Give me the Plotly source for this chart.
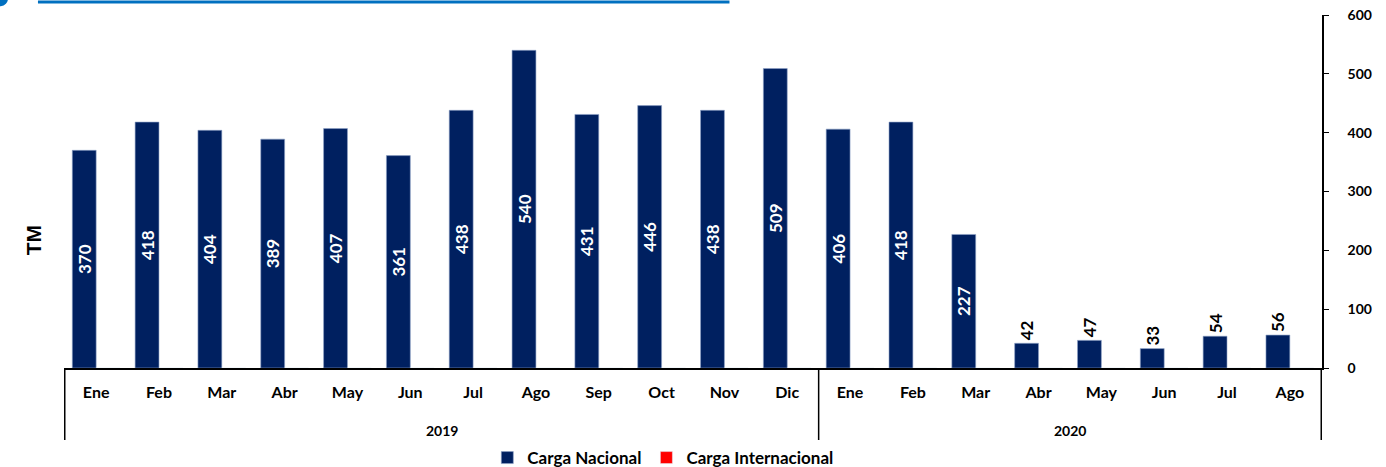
import plotly.graph_objects as go

years = ["2019"] * 12 + ["2020"] * 8
months = ["Ene", "Feb", "Mar", "Abr", "May", "Jun", "Jul", "Ago", "Sep", "Oct", "Nov", "Dic",
          "Ene", "Feb", "Mar", "Abr", "May", "Jun", "Jul", "Ago"]
carga_nacional = [370, 418, 404, 389, 407, 361, 438, 540, 431, 446, 438, 509,
                  406, 418, 227, 42, 47, 33, 54, 56]
carga_internacional = [0] * 20

FONT = "Lato"
NAVY = "#002060"

cats = [f"{m} {y}" for m, y in zip(months, years)]
positions = ["inside" if v >= 100 else "outside" for v in carga_nacional]

fig = go.Figure()
fig.add_trace(go.Bar(
    x=cats, y=carga_nacional, name="Carga Nacional",
    marker=dict(color=NAVY, line=dict(color="#8fa3c8", width=0.6)),
    text=[str(v) for v in carga_nacional], textposition=positions,
    textangle=-90, insidetextanchor="middle", constraintext="none",
    insidetextfont=dict(color="white", size=17, family=FONT, weight="bold"),
    outsidetextfont=dict(color="black", size=17, family=FONT, weight="bold"),
    cliponaxis=False,
))
fig.add_trace(go.Bar(
    x=cats, y=carga_internacional, name="Carga Internacional",
    marker=dict(color="#FF0000"),
))

# year group labels and dividers, derived from the data
annotations = [dict(text="<b>TM</b>", xref="paper", yref="paper", x=-0.035, y=0.363,
                    showarrow=False, textangle=-90, font=dict(size=21, family="Arial"))]
shapes = []
unique_years = []
for y in years:
    if y not in unique_years:
        unique_years.append(y)
bounds = [-0.5]
for yr in unique_years:
    idx = [i for i, y in enumerate(years) if y == yr]
    mid = (idx[0] + idx[-1]) / 2
    annotations.append(dict(text=f"<b>{yr}</b>", x=mid, xref="x", y=-0.176, yref="paper",
                            yanchor="middle", showarrow=False,
                            font=dict(size=14, family=FONT)))
    bounds.append(idx[-1] + 0.5)
for b in bounds:
    shapes.append(dict(type="line", xref="x", yref="paper", x0=b, x1=b, y0=0, y1=-0.204,
                       line=dict(color="black", width=1.5)))

shapes += [
    dict(type="line", xref="paper", yref="paper", x0=-0.0207, x1=0.529, y0=1.037, y1=1.037,
         line=dict(color="#0070C0", width=3)),
    dict(type="circle", xref="paper", yref="paper", x0=-0.056, x1=-0.0445, y0=1.025, y1=1.07,
         fillcolor="#0070C0", line=dict(width=0)),
]

fig.update_layout(
    width=1386, height=467,
    margin=dict(l=64, r=64, t=15, b=99, autoexpand=False),
    paper_bgcolor="white", plot_bgcolor="white",
    barmode="group", bargap=0.24, bargroupgap=0,
    font=dict(family=FONT, color="black"),
    showlegend=True,
    legend=dict(orientation="h", x=0.476, xanchor="center", y=-0.255, yanchor="middle",
                font=dict(size=17, family=FONT, weight="bold"),
                traceorder="normal"),
    xaxis=dict(type="category", showline=True, linecolor="black", linewidth=1.5,
               ticks="", showgrid=False, automargin=False,
               tickvals=cats, ticktext=[f"<b>{m}</b>" for m in months],
               ticklabelstandoff=9,
               tickfont=dict(size=16, family=FONT)),
    yaxis=dict(range=[0, 600], side="right", showline=True, linecolor="black", linewidth=1.5,
               ticks="outside", ticklen=5, tickcolor="black", dtick=100, showgrid=False,
               zeroline=False, automargin=False, ticklabelstandoff=16,
               tickfont=dict(size=14, family=FONT, weight="bold")),
    annotations=annotations,
    shapes=shapes,
)

fig.write_html("out.html", config={"displayModeBar": False},
               post_script="document.body.style.margin='0';")
